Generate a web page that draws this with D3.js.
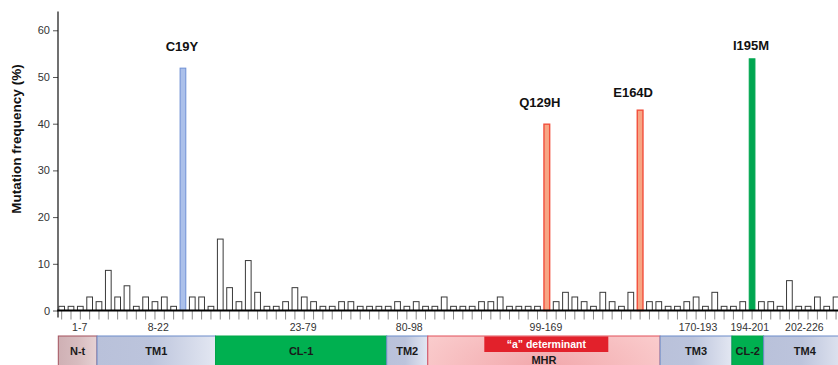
<!DOCTYPE html>
<html><head><meta charset="utf-8">
<script src="https://cdn.jsdelivr.net/npm/d3@7"></script>
<style>body{margin:0;background:#fff}svg{display:block;font-family:"Liberation Sans",Arial,sans-serif}</style>
</head><body><svg id="c" width="838" height="365"></svg>
<script>
// ---- data ----
const values = [1,1,1,3,2,8.7,3,5.4,1,3,2,3,1,52,3,3,1,15.4,5,2,10.8,4,1,1,2,5,3,2,1,1,
  2,2,1,1,1,1,2,1,2,1,1,3,1,1,1,2,2,3,1,1,1,1,40,2,4,3,2,1,4,2,1,4,43,2,2,1,1,2,3,1,
  4,1,1,2,54,2,2,1,6.5,1,1,3,1,3];
const hlIndex = [13, 52, 62, 74];
const hlLabel = ["C19Y", "Q129H", "E164D", "I195M"];
const hlKind = ["blue", "red", "red", "green"];
const yTicks = [0, 10, 20, 30, 40, 50, 60];
const rangeLabels = ["1-7","8-22","23-79","80-98","99-169","170-193","194-201","202-226"];
const domainNames = ["N-t","TM1","CL-1","TM2","MHR","TM3","CL-2","TM4"];
const domainStart = [0, 4.15, 16.85, 35.2, 39.6, 64.5, 72.2, 75.6];
const domainEnd = [4.15, 16.85, 35.2, 39.6, 64.5, 72.2, 75.6, 84.5];
const domainType = ["nt","tm","cl","tm","mhr","tm","cl","tm"];
const detLabel = "\u201ca\u201d determinant";
const detStart = 45.66, detEnd = 58.95;

// ---- styles ----
const kindFill = {blue:"#abc0ea", red:"#f7a584", green:"#00a650"};
const kindStroke = {blue:"#6e8fd4", red:"#f24f3c", green:"#00a650"};
const labelShift = {C19Y:[-1,-17], Q129H:[-7,-17], E164D:[-7,-13], I195M:[-1,-8]};

const svg = d3.select("#c");
const step = 9.33, x0 = 58.3;
const x = d3.scaleLinear().domain([0, 84]).range([x0, x0 + 84 * step]);
const y = d3.scaleLinear().domain([0, 64]).range([310.5, 11.6]);
const bw = 0.72;

const defs = svg.append("defs");
function lin(id, stops, dir) {
  const g = defs.append("linearGradient").attr("id", id)
    .attr("x1", 0).attr("y1", 0).attr("x2", dir === "v" ? 0 : 1).attr("y2", dir === "v" ? 1 : 0);
  stops.forEach(s => g.append("stop").attr("offset", s[0]).attr("stop-color", s[1]));
}
lin("gtm", [[0,"#b9c1da"],[0.45,"#bcc4dc"],[1,"#e3e7f2"]]);
lin("gnt", [[0,"#cfb0b4"],[0.5,"#d7bcbf"],[1,"#e6d2d4"]]);
const rg = defs.append("radialGradient").attr("id","gmhr").attr("cx",0.5).attr("cy",1).attr("r",0.75)
  .attr("gradientTransform","translate(0.5,1) scale(1,3) translate(-0.5,-1)");
rg.append("stop").attr("offset",0).attr("stop-color","#f2a7ab");
rg.append("stop").attr("offset",1).attr("stop-color","#fcd6d6");

const domFill = {nt:"url(#gnt)", tm:"url(#gtm)", cl:"#00b050", mhr:"url(#gmhr)"};
const domStroke = {nt:"#a3505c", tm:"#6d8cc9", cl:"#00a548", mhr:"#e2505a"};

// ---- y axis ----
const yAxis = d3.axisLeft(y).tickValues(yTicks).tickSize(5).tickPadding(3);
const ga = svg.append("g").attr("transform", `translate(${x0 - 0.3},0)`).call(yAxis);
ga.select(".domain").remove();
ga.selectAll(".tick line").attr("stroke", "#555");
ga.selectAll(".tick text").attr("fill", "#333").style("font-size", "11px")
  .style("font-family", '"Liberation Sans",Arial,sans-serif');
svg.append("line").attr("x1", x0 - 0.3).attr("x2", x0 - 0.3)
  .attr("y1", y(64)).attr("y2", y(0) + 7).attr("stroke", "#111").attr("stroke-width", 1.2);

svg.append("text").attr("transform", `translate(21,139) rotate(-90)`)
  .attr("text-anchor", "middle").attr("font-weight", "bold").attr("font-size", "13.5px")
  .attr("fill", "#111").text("Mutation frequency (%)");

// ---- ticks under bars ----
svg.append("g").selectAll("line").data(values).join("line")
  .attr("x1", (d, i) => x(i + bw / 2)).attr("x2", (d, i) => x(i + bw / 2))
  .attr("y1", y(0)).attr("y2", y(0) + 9).attr("stroke", "#8a8a8a").attr("stroke-width", 1);

// ---- bars ----
const kindOf = i => { const k = hlIndex.indexOf(i); return k < 0 ? null : hlKind[k]; };
svg.append("g").selectAll("rect").data(values).join("rect")
  .attr("x", (d, i) => x(i) + 0.5)
  .attr("width", (d, i) => x(i + bw) - x(i) - 1)
  .attr("y", d => y(d) + 0.5)
  .attr("height", d => y(0) - y(d) - 0.5)
  .attr("fill", (d, i) => kindOf(i) ? kindFill[kindOf(i)] : "#fff")
  .attr("stroke", (d, i) => kindOf(i) ? kindStroke[kindOf(i)] : "#3a3a3a")
  .attr("stroke-width", (d, i) => kindOf(i) === "red" ? 1.4 : 1);

// baseline
svg.append("line").attr("x1", x0 - 1).attr("x2", 838).attr("y1", y(0)).attr("y2", y(0))
  .attr("stroke", "#000").attr("stroke-width", 2);

// highlight labels
svg.append("g").selectAll("text").data(hlIndex).join("text")
  .attr("x", (d, k) => x(d + bw / 2) + labelShift[hlLabel[k]][0])
  .attr("y", (d, k) => y(values[d]) + labelShift[hlLabel[k]][1])
  .attr("text-anchor", "middle").attr("font-weight", "bold").attr("font-size", "13px")
  .attr("fill", "#111").text((d, k) => hlLabel[k]);

// ---- range labels ----
svg.append("g").selectAll("text").data(rangeLabels).join("text")
  .attr("x", (d, i) => (x(domainStart[i]) + x(Math.min(domainEnd[i], 83.9))) / 2 + 2)
  .attr("y", 327).attr("dy", "0.35em").attr("text-anchor", "middle")
  .attr("font-size", "10.5px").attr("fill", "#333").text(d => d);

// ---- domain boxes ----
const gd = svg.append("g");
gd.selectAll("rect").data(domainNames).join("rect")
  .attr("x", (d, i) => x(domainStart[i])).attr("y", 336)
  .attr("width", (d, i) => x(domainEnd[i]) - x(domainStart[i])).attr("height", 32)
  .attr("fill", (d, i) => domFill[domainType[i]])
  .attr("stroke", (d, i) => domStroke[domainType[i]]).attr("stroke-width", 1);

gd.append("rect").attr("x", x(detStart)).attr("y", 336.5)
  .attr("width", x(detEnd) - x(detStart)).attr("height", 15.5).attr("fill", "#e2212b");
gd.append("text").attr("x", (x(detStart) + x(detEnd)) / 2).attr("y", 344.5).attr("dy", "0.35em")
  .attr("text-anchor", "middle").attr("fill", "#fff").attr("font-size", "10.5px")
  .attr("font-weight", "bold").text(detLabel);

gd.selectAll("text.dn").data(domainNames).join("text").attr("class", "dn")
  .attr("x", (d, i) => (x(domainStart[i]) + x(Math.min(domainEnd[i], 84))) / 2 + (i === 7 ? 2 : 0))
  .attr("y", (d, i) => domainType[i] === "mhr" ? 360 : 351.5).attr("dy", "0.35em")
  .attr("text-anchor", "middle").attr("font-weight", "bold").attr("font-size", "11px")
  .attr("fill", "#1a1a1a").text(d => d);
</script></body></html>
